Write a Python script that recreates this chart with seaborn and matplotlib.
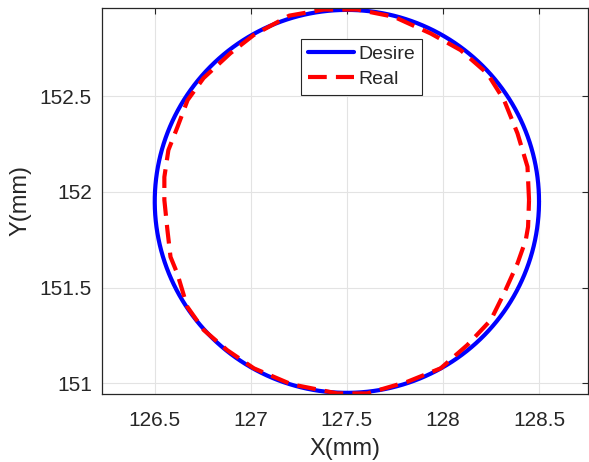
import numpy as np
import pandas as pd
import matplotlib
matplotlib.use("Agg")
import matplotlib.pyplot as plt
import seaborn as sns

# Desired trajectory: circle
desire_center = (127.5, 151.95)
desire_radius = 1.0

# Real trajectory
real_x = [128.448, 128.44, 128.388, 128.318, 128.231, 128.092, 127.936, 127.745,
          127.554, 127.38, 127.2, 127.014, 126.894, 126.754, 126.671, 126.618,
          126.571, 126.55, 126.55, 126.566, 126.582, 126.617, 126.669, 126.755,
          126.877, 127.016, 127.21, 127.45, 127.606, 127.815, 127.988, 128.127,
          128.249, 128.318, 128.388, 128.431, 128.443, 128.448]
real_y = [151.957, 152.131, 152.305, 152.479, 152.618, 152.74, 152.827, 152.914,
          152.952, 152.952, 152.92, 152.818, 152.724, 152.594, 152.479, 152.338,
          152.218, 152.077, 151.957, 151.8, 151.66, 151.574, 151.4, 151.278,
          151.173, 151.078, 150.995, 150.947, 150.947, 151.008, 151.078, 151.2,
          151.33, 151.47, 151.626, 151.748, 151.817, 151.957]

x_ticks = [126.5, 127, 127.5, 128, 128.5]
x_tick_labels = ["126.5", "127", "127.5", "128", "128.5"]
y_ticks = [151, 151.5, 152, 152.5]
y_tick_labels = ["151", "151.5", "152", "152.5"]

sns.set_theme(style="whitegrid")
plt.rcParams['font.family'] = ['Liberation Sans', 'DejaVu Sans']

theta = np.linspace(0, 2 * np.pi, 400)
desire_df = pd.DataFrame({
    "x": desire_center[0] + desire_radius * np.cos(theta),
    "y": desire_center[1] + desire_radius * np.sin(theta),
})
real_df = pd.DataFrame({"x": real_x, "y": real_y})

fig = plt.figure(figsize=(5.89, 4.62), dpi=100)
ax = fig.add_axes([0.1727, 0.1472, 0.8253, 0.8355])
ax.set_facecolor("white")

sns.lineplot(data=desire_df, x="x", y="y", sort=False, estimator=None,
             color="#0000ff", lw=3.0, ax=ax, label="Desire")
sns.lineplot(data=real_df, x="x", y="y", sort=False, estimator=None,
             color="#ff0000", lw=3.0, ax=ax, label="Real")
ax.lines[1].set_dashes((4.5, 2.2))

ax.set_xlim(126.224, 128.754)
ax.set_ylim(150.944, 152.96)
ax.set_xticks(x_ticks)
ax.set_xticklabels(x_tick_labels)
ax.set_yticks(y_ticks)
ax.set_yticklabels(y_tick_labels)

ax.grid(True, color="#e3e3e3", lw=0.8)
for s in ax.spines.values():
    s.set_visible(True)
    s.set_color("#262626")
    s.set_linewidth(0.9)
ax.tick_params(direction="in", length=4, width=0.8, color="#262626",
               labelsize=15, labelcolor="#262626", top=True, right=True,
               labeltop=False, labelright=False)
ax.tick_params(axis="x", pad=12)
ax.tick_params(axis="y", pad=7)
ax.set_xlabel("X(mm)", fontsize=17, color="#262626", labelpad=6)
ax.set_ylabel("Y(mm)", fontsize=17, color="#262626", labelpad=6)

leg = ax.legend(loc="upper left", bbox_to_anchor=(0.41, 0.92), borderaxespad=0,
                fontsize=14, frameon=True, fancybox=False, framealpha=1,
                edgecolor="#262626", handlelength=2.4, handletextpad=0.2,
                borderpad=0.35, labelspacing=0.35)
leg.get_frame().set_linewidth(0.8)

fig.savefig("out.png", dpi=100)
